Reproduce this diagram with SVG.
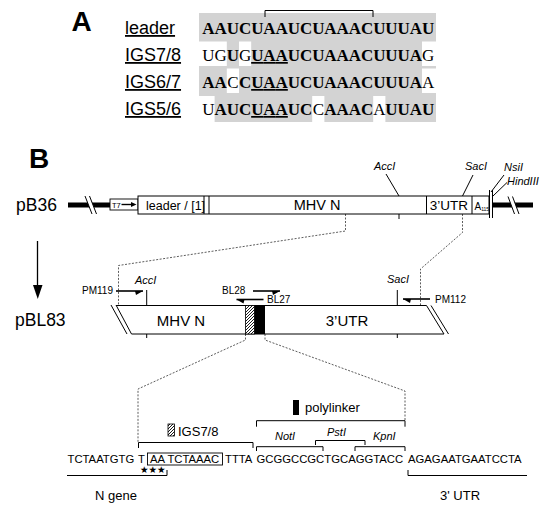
<svg xmlns="http://www.w3.org/2000/svg" width="547" height="506" viewBox="0 0 547 506">
<defs>
<style>
.sans{font-family:"Liberation Sans",Arial,sans-serif;fill:#000}
.seq{font-family:"Liberation Serif","Times New Roman",serif;font-size:17px;text-anchor:middle;fill:#000}
.b{font-weight:bold}
.u{text-decoration:underline}
.lab{font-family:"Liberation Sans",Arial,sans-serif;font-size:18px;text-decoration:underline;fill:#000}
.it{font-family:"Liberation Sans",Arial,sans-serif;font-style:italic;font-size:11px;fill:#000}
.pr{font-family:"Liberation Sans",Arial,sans-serif;font-size:10px;fill:#000}
.nt{font-family:"Liberation Sans",Arial,sans-serif;font-size:11.3px;fill:#000}
.ln{stroke:#000;stroke-width:1;fill:none}
.dash{stroke:#333;stroke-width:0.8;fill:none;stroke-dasharray:2 1.5}
.primer{stroke:#000;stroke-width:1.6;fill:none}
.thick{stroke:#000;stroke-width:5}
.wm{fill:#fff}
</style>
<pattern id="hatch" patternUnits="userSpaceOnUse" width="3" height="3"><rect width="3" height="3" fill="#fff"/><path d="M-1,1 L1,-1 M0,3 L3,0 M2,4 L4,2" stroke="#000" stroke-width="0.9"/></pattern>
<marker id="hR" markerUnits="userSpaceOnUse" viewBox="0 -5 10 10" refX="8" refY="0" markerWidth="10" markerHeight="10" orient="auto"><path d="M8,0 L0,0 L1,4 Z" fill="#000"/></marker>
<marker id="hL" markerUnits="userSpaceOnUse" viewBox="0 -5 10 10" refX="8" refY="0" markerWidth="10" markerHeight="10" orient="auto"><path d="M8,0 L0,0 L1,-4 Z" fill="#000"/></marker>
</defs>
<rect width="547" height="506" fill="#fff"/>

<!-- Panel A -->
<g id="panelA">
<text class="sans b" x="71.5" y="31" font-size="28">A</text>
<rect x="199" y="13" width="237" height="109" fill="#d3d3d3"/>
<rect class="wm" x="199" y="41.5" width="27.8" height="24.5"/>
<rect class="wm" x="239" y="41.5" width="12.2" height="24.5"/>
<rect class="wm" x="422" y="41.5" width="14" height="24.5"/>
<rect class="wm" x="226.8" y="68.5" width="12.2" height="24.5"/>
<rect class="wm" x="422" y="68.5" width="14" height="24.5"/>
<rect class="wm" x="199" y="96" width="15.6" height="26"/>
<rect class="wm" x="312.2" y="96" width="12.2" height="26"/>
<rect class="wm" x="373.2" y="96" width="12.2" height="26"/>
<path class="ln" d="M265,17 V10.5 H373 V17"/>
<text class="lab" x="125" y="34">leader</text>
<text class="lab" x="125" y="61">IGS7/8</text>
<text class="lab" x="125" y="88">IGS6/7</text>
<text class="lab" x="125" y="115">IGS5/6</text>
<text class="seq b" y="34" x="208.5 220.7 232.9 245.1 257.3 269.5 281.7 293.9 306.1 318.3 330.5 342.7 354.9 367.1 379.3 391.5 403.7 415.9 428.1">AAUCUAAUCUAAACUUUAU</text>
<text class="seq" y="61"><tspan x="208.5 220.7">UG</tspan><tspan class="b" x="232.9">U</tspan><tspan x="245.1">G</tspan><tspan class="b u" x="257.3 269.5 281.7">UAA</tspan><tspan class="b" x="293.9 306.1 318.3 330.5 342.7 354.9 367.1 379.3 391.5 403.7 415.9">UCUAAACUUUA</tspan><tspan x="428.1">G</tspan></text>
<text class="seq" y="88"><tspan class="b" x="208.5 220.7">AA</tspan><tspan x="232.9">C</tspan><tspan class="b" x="245.1">C</tspan><tspan class="b u" x="257.3 269.5 281.7">UAA</tspan><tspan class="b" x="293.9 306.1 318.3 330.5 342.7 354.9 367.1 379.3 391.5 403.7 415.9">UCUAAACUUUA</tspan><tspan x="428.1">A</tspan></text>
<text class="seq" y="115"><tspan x="208.5">U</tspan><tspan class="b" x="220.7 232.9 245.1">AUC</tspan><tspan class="b u" x="257.3 269.5 281.7">UAA</tspan><tspan class="b" x="293.9 306.1">UC</tspan><tspan x="318.3">C</tspan><tspan class="b" x="330.5 342.7 354.9 367.1">AAAC</tspan><tspan x="379.3">A</tspan><tspan class="b" x="391.5 403.7 415.9 428.1">UUAU</tspan></text>
</g>

<text class="sans b" x="29" y="168" font-size="28">B</text>

<!-- connectors -->
<g id="connectors">
<path class="dash" d="M345.5,214 V231 L118.5,265.5 V305.5"/>
<path class="dash" d="M462.5,214 V232.5 L420.5,269 V305.5"/>
<path class="dash" d="M245.5,334 V340 L138,389 V442"/>
<path class="dash" d="M265,334 V340 L405,391 V420.7"/>
<line x1="37.5" y1="241" x2="37.5" y2="286" stroke="#000" stroke-width="1.3"/>
<polygon points="33,285 42.5,285 37.75,299" fill="#000"/>
</g>

<!-- pB36 -->
<g id="pB36">
<text class="sans" x="16" y="211" font-size="17.5">pB36</text>
<line class="thick" x1="68" y1="205" x2="110" y2="205"/>
<polygon points="85,196 89.5,196 96.5,214 92,214" fill="#fff"/>
<line class="ln" x1="85" y1="196" x2="92" y2="214"/>
<line class="ln" x1="89.5" y1="196" x2="96.5" y2="214"/>
<rect x="110" y="199" width="28" height="11" fill="#fff" stroke="#000" stroke-width="0.9"/>
<text class="sans" x="112" y="207.5" font-size="7.5">T7</text>
<line x1="121.5" y1="204.5" x2="132" y2="204.5" stroke="#000" stroke-width="1.4"/>
<polygon points="131,202 136.5,204.5 131,207" fill="#000"/>
<rect x="138" y="196" width="351" height="18" fill="#fff" stroke="#000" stroke-width="1"/>
<line class="ln" x1="204" y1="196" x2="204" y2="214"/>
<line class="ln" x1="209" y1="196" x2="209" y2="214"/>
<line class="ln" x1="426.5" y1="196" x2="426.5" y2="214"/>
<line class="ln" x1="472" y1="196" x2="472" y2="214"/>
<text class="sans" x="146" y="210" font-size="12.5">leader / [1]</text>
<text class="sans" x="317" y="210" font-size="14.5" text-anchor="middle">MHV N</text>
<text class="sans" x="449" y="210" font-size="13.5" text-anchor="middle">3’UTR</text>
<text class="sans" x="474.5" y="209.5" font-size="10">A<tspan font-size="5" dy="1">115</tspan></text>
<line class="ln" x1="489.5" y1="190" x2="489.5" y2="218"/>
<line class="ln" x1="492.5" y1="190" x2="492.5" y2="218"/>
<line class="thick" x1="493" y1="205" x2="533" y2="205"/>
<polygon points="508,196.5 512.5,196.5 519,214 514.5,214" fill="#fff"/>
<line class="ln" x1="508" y1="196.5" x2="514.5" y2="214"/>
<line class="ln" x1="512.5" y1="196.5" x2="519" y2="214"/>
<text class="it" x="374" y="170">AccI</text>
<line class="ln" x1="386" y1="174" x2="399" y2="196"/>
<line class="ln" x1="399" y1="214" x2="399" y2="219"/>
<text class="it" x="465" y="170">SacI</text>
<line class="ln" x1="473" y1="175" x2="462.5" y2="196"/>
<text class="it" x="504" y="171">NsiI</text>
<line class="ln" x1="504" y1="175" x2="491" y2="192"/>
<text class="it" x="507" y="185">HindIII</text>
<line class="ln" x1="507" y1="182.5" x2="493" y2="196"/>
</g>

<!-- pBL83 -->
<g id="pBL83">
<text class="sans" x="15" y="325.5" font-size="17.5">pBL83</text>
<line class="ln" x1="116" y1="305.5" x2="426.5" y2="305.5"/>
<line class="ln" x1="131.5" y1="334" x2="444" y2="334"/>
<line class="ln" x1="111" y1="305" x2="127" y2="334"/>
<line class="ln" x1="116" y1="305" x2="131.5" y2="334"/>
<line class="ln" x1="426.5" y1="305.5" x2="444" y2="334"/>
<line class="ln" x1="431" y1="305.5" x2="448.5" y2="334"/>
<rect x="245.5" y="305.5" width="9" height="28.5" fill="url(#hatch)" stroke="#000" stroke-width="0.8"/>
<rect x="254.5" y="305.5" width="10.5" height="28.5" fill="#000"/>
<text class="sans" x="181" y="325.5" font-size="15" text-anchor="middle">MHV N</text>
<text class="sans" x="347" y="325.5" font-size="15" text-anchor="middle">3’UTR</text>
<line class="ln" x1="146.7" y1="290" x2="146.7" y2="305.5"/>
<line class="ln" x1="146.7" y1="334" x2="146.7" y2="338"/>
<text class="it" x="135" y="283.5">AccI</text>
<line class="ln" x1="397.3" y1="290" x2="397.3" y2="305.5"/>
<line class="ln" x1="397.3" y1="334" x2="397.3" y2="338"/>
<text class="it" x="387" y="283">SacI</text>
<text class="pr" x="82" y="294">PM119</text>
<path class="primer" d="M116,291 H143" marker-end="url(#hR)"/>
<text class="pr" x="222" y="293.5">BL28</text>
<path class="primer" d="M253,291 H280" marker-end="url(#hR)"/>
<path class="primer" d="M263.5,299.5 H236.5" marker-end="url(#hL)"/>
<text class="pr" x="267" y="302.5">BL27</text>
<path class="primer" d="M430,299 H403" marker-end="url(#hL)"/>
<text class="pr" x="435" y="302.5">PM112</text>
</g>

<!-- sequence detail -->
<g id="detail">
<rect x="293" y="400" width="6" height="15" fill="#000"/>
<text class="sans" x="305" y="411.5" font-size="13">polylinker</text>
<path class="ln" d="M256.5,426.7 V420.7 H405 V426.7"/>
<rect x="168" y="424" width="6.5" height="12" fill="url(#hatch)" stroke="#000" stroke-width="0.8"/>
<text class="sans" x="178" y="435.5" font-size="13">IGS7/8</text>
<path class="ln" d="M138.5,448 V442.5 H253 V448"/>
<text class="it" x="275" y="440">NotI</text>
<text class="it" x="327" y="436">PstI</text>
<text class="it" x="373" y="440">KpnI</text>
<path class="ln" d="M256.5,451 V446.7 H323 V451"/>
<path class="ln" d="M315.5,445 V440.5 H365 V445"/>
<path class="ln" d="M355,451 V446.7 H405 V451"/>
<text class="nt" x="67.5" y="463">TCTAATGTG</text>
<text class="nt" x="138" y="463">T</text>
<rect x="147.5" y="453" width="75" height="12" fill="none" stroke="#000" stroke-width="0.9"/>
<text class="nt" x="150" y="463">AA TCTAAAC</text>
<text class="nt" x="225" y="463">TTTA</text>
<text class="nt" x="256.5" y="463">GCGGCCGCTGCAGGTACC</text>
<text class="nt" x="408" y="463">AGAGAATGAATCCTA</text>
<text x="140" y="473" font-family="'DejaVu Sans',sans-serif" font-size="9.5">★★★</text>
<path class="ln" d="M67,475.5 H167 V470"/>
<path class="ln" d="M408,470 V475.5 H527"/>
<text class="sans" x="95" y="499.5" font-size="13">N gene</text>
<text class="sans" x="440" y="500" font-size="13">3' UTR</text>
</g>
</svg>
